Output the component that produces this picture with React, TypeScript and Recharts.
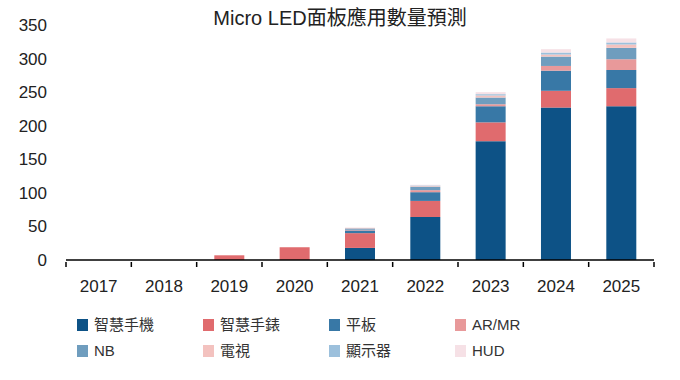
import { BarChart, Bar, XAxis, YAxis } from "recharts";

const years = ["2017", "2018", "2019", "2020", "2021", "2022", "2023", "2024", "2025"];
const smartphone = [0, 0, 0, 0, 18, 64, 177, 227, 229];
const smartwatch = [0, 0, 7, 19, 22, 24, 28, 25, 27];
const tablet = [0, 0, 0, 0, 4, 13, 24, 30, 27];
const arMr = [0, 0, 0, 0, 1, 3, 3, 7, 16];
const nb = [0, 0, 0, 0, 2, 5, 10, 14, 17];
const tv = [0, 0, 0, 0, 1, 1, 3, 3, 5];
const display = [0, 0, 0, 0, 0, 1, 2, 3, 3];
const hud = [0, 0, 0, 0, 0, 1, 3, 5, 6];
const yTicks = [0, 50, 100, 150, 200, 250, 300, 350];

const series = [
  { key: "智慧手機", values: smartphone, color: "#0D5286" },
  { key: "智慧手錶", values: smartwatch, color: "#E06B6E" },
  { key: "平板", values: tablet, color: "#3878A6" },
  { key: "AR/MR", values: arMr, color: "#E8999A" },
  { key: "NB", values: nb, color: "#6F9DBE" },
  { key: "電視", values: tv, color: "#F3C2BF" },
  { key: "顯示器", values: display, color: "#9CC0DC" },
  { key: "HUD", values: hud, color: "#F6E1E6" },
];

const data = years.map((y, i) => {
  const row: Record<string, string | number> = { year: y };
  series.forEach((s) => { row[s.key] = s.values[i]; });
  return row;
});

const FONT = "'Liberation Sans', 'Noto Sans CJK TC', sans-serif";
const STEP = 588 / years.length;

function YearTick(props: any) {
  const { x, y, payload, index } = props;
  const left = x - STEP / 2;
  return (
    <g>
      <line x1={left} x2={left} y1={y - 6} y2={y - 1} stroke="#000" strokeWidth={1.5} />
      {index === years.length - 1 && (
        <line x1={x + STEP / 2} x2={x + STEP / 2} y1={y - 6} y2={y - 1} stroke="#000" strokeWidth={1.5} />
      )}
      <text x={x} y={y + 24} textAnchor="middle" fontSize={17} fill="#222" fontFamily={FONT}>
        {payload.value}
      </text>
    </g>
  );
}

export default function App() {
  return (
    <div style={{ position: "fixed", left: 0, top: 0, width: 680, height: 380, background: "#fff", fontFamily: FONT }}>
      <div style={{ position: "absolute", top: 2, left: 0, width: 680, textAlign: "center", fontSize: 20, color: "#222" }}>
        Micro LED面板應用數量預測
      </div>
      <BarChart
        width={680}
        height={380}
        data={data}
        margin={{ top: 25, right: 26, left: 0, bottom: 90 }}
        barCategoryGap="27%"
      >
        <XAxis
          dataKey="year"
          height={30}
          axisLine={{ stroke: "#000", strokeWidth: 1.5 }}
          tickLine={false}
          tick={<YearTick />}
          interval={0}
        />
        <YAxis
          width={66}
          domain={[0, 350]}
          ticks={yTicks}
          axisLine={false}
          tickLine={false}
          tickSize={0}
          tickMargin={19}
          tick={{ fontSize: 17, fill: "#222", fontFamily: FONT }}
        />
        {series.map((s) => (
          <Bar key={s.key} dataKey={s.key} stackId="a" fill={s.color} isAnimationActive={false} />
        ))}
      </BarChart>
      {series.map((s, i) => {
        const col = i % 4;
        const row = Math.floor(i / 4);
        return (
          <div
            key={s.key}
            style={{
              position: "absolute",
              left: 77 + col * 126,
              top: 316 + row * 26,
              height: 18,
              lineHeight: "18px",
              display: "flex",
              alignItems: "center",
              fontSize: 15,
              color: "#333",
            }}
          >
            <span style={{ display: "inline-block", width: 11, height: 12, background: s.color, marginRight: 6, flex: "none" }} />
            <span style={{ display: "inline-block", height: 18, lineHeight: "18px" }}>{s.key}</span>
          </div>
        );
      })}
    </div>
  );
}
